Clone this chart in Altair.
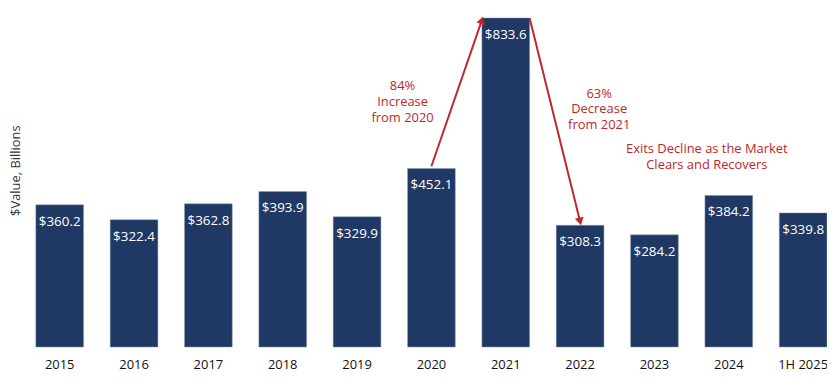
import altair as alt
import pandas as pd

categories = ["2015", "2016", "2017", "2018", "2019", "2020", "2021", "2022", "2023", "2024", "1H 2025"]
values = [360.2, 322.4, 362.8, 393.9, 329.9, 452.1, 833.6, 308.3, 284.2, 384.2, 339.8]
bar_labels = [f"${v:.1f}" for v in values]

note_texts = ["84%\nIncrease\nfrom 2020", "63%\nDecrease\nfrom 2021", "Exits Decline as the Market\nClears and Recovers"]
note_cats = ["2020", "2022", "2024"]
note_bands = [0.0, 0.9, 0.04]
note_dx = [-5, 0, 0]
note_vals = [660, 642, 501]

arrow_from_cat = ["2020", "2021"]
arrow_from_band = [0.5, 1.0]
arrow_from_val = [458, 833.6]
arrow_to_cat = ["2021", "2022"]
arrow_to_band = [0.0, 0.5]
arrow_to_val = [828, 318]
arrow_angles = [17, 167]

NAVY = "#1F3864"
RED = "#C0262C"
FONT = "Open Sans"

df = pd.DataFrame({"cat": categories, "val": values, "lab": bar_labels})

xscale = alt.Scale(domain=categories, paddingInner=0.358, paddingOuter=0)
yscale = alt.Scale(domain=[0, 856], nice=False, zero=True)

xenc = alt.X("cat:N", scale=xscale, sort=categories,
             axis=alt.Axis(title=None, labelAngle=0, ticks=False, domain=False,
                           labelPadding=12, labelFontSize=13, labelColor="#111111",
                           labelFont=FONT))
yenc = alt.Y("val:Q", scale=yscale,
             axis=alt.Axis(title="$Value, Billions", labels=False, ticks=False, domain=False,
                           grid=False, titleX=-16, titleY=162, titleFontSize=13,
                           titleFontWeight="normal", titleColor="#333333", titleFont=FONT,
                           titleBaseline="alphabetic"))

bars = alt.Chart(df).mark_bar(color=NAVY, stroke="#8a9ab8", strokeWidth=0.5).encode(x=xenc, y=yenc)

labels = alt.Chart(df).mark_text(color="white", baseline="middle", dy=17, fontSize=13.5, font=FONT).encode(
    x=alt.X("cat:N", scale=xscale, sort=categories),
    y=alt.Y("val:Q", scale=yscale),
    text="lab:N",
)

layers = [bars, labels]

for t, c, b, dx, v in zip(note_texts, note_cats, note_bands, note_dx, note_vals):
    nd = pd.DataFrame({"cat": [c], "val": [v], "txt": [t]})
    layers.append(
        alt.Chart(nd).mark_text(color=RED, fontSize=13, font=FONT, lineBreak="\n", dx=dx,
                                baseline="middle", lineHeight=16, align="center").encode(
            x=alt.X("cat:N", scale=xscale, sort=categories, bandPosition=b),
            y=alt.Y("val:Q", scale=yscale),
            text="txt:N",
        )
    )

for fc, fb, fv, tc, tb, tv, ang in zip(arrow_from_cat, arrow_from_band, arrow_from_val,
                                        arrow_to_cat, arrow_to_band, arrow_to_val, arrow_angles):
    ad = pd.DataFrame({"c1": [fc], "v1": [fv], "c2": [tc], "v2": [tv]})
    layers.append(
        alt.Chart(ad).mark_rule(color=RED, strokeWidth=2).encode(
            x=alt.X("c1:N", scale=xscale, sort=categories, bandPosition=fb),
            x2=alt.X2("c2", bandPosition=tb),
            y=alt.Y("v1:Q", scale=yscale),
            y2=alt.Y2("v2"),
        )
    )
    layers.append(
        alt.Chart(ad).mark_point(shape="triangle-up", filled=True, color=RED, size=80,
                                 angle=ang, opacity=1).encode(
            x=alt.X("c2:N", scale=xscale, sort=categories, bandPosition=tb),
            y=alt.Y("v2:Q", scale=yscale),
        )
    )

chart = alt.layer(*layers).properties(
    width=796, height=340,
    autosize=alt.AutoSizeParams(type="none"),
    padding={"left": 28, "top": 0, "right": 0, "bottom": 30},
).configure_view(stroke=None)

chart.save("out.html", embed_options={"renderer": "svg", "actions": False})
